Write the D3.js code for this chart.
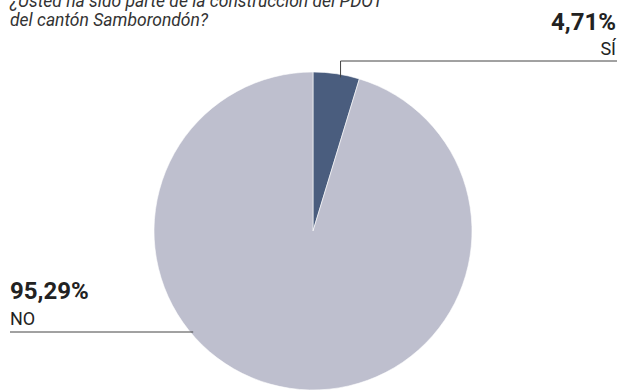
<!DOCTYPE html>
<html>
<head>
<meta charset="utf-8">
<script src="https://cdn.jsdelivr.net/npm/d3@7"></script>
<style>
  body { margin: 0; background: #fff; }
  text { font-family: Roboto, "DejaVu Sans", sans-serif; fill: #222; }
</style>
</head>
<body>
<div id="chart"></div>
<script>
// Data
const categories = ['SÍ', 'NO'];
const values = [4.71, 95.29];
const valueLabels = ['4,71%', '95,29%'];
const colors = ['#4a5d7e', '#bebfce'];
const titleLines = ['¿Usted ha sido parte de la construcción del PDOT', 'del cantón Samborondón?'];

const WIDTH = 617;
const HEIGHT = 390;
const CX = 313;
const CY = 231;
const RADIUS = 159;

const svg = d3.select('#chart')
    .append('svg')
    .attr('width', WIDTH)
    .attr('height', HEIGHT);

// Title (top line is clipped by the page edge, as in the original)
svg.append('text')
    .attr('x', 10)
    .attr('y', 7)
    .style('font-size', '17.5px')
    .style('font-style', 'italic')
    .style('fill', '#333')
    .selectAll('tspan')
    .data(titleLines)
    .join('tspan')
    .attr('x', 10)
    .attr('dy', (d, i) => i === 0 ? 0 : 19)
    .text(d => d);

// Pie
const pie = d3.pie().sort(null).value(d => d);
const arc = d3.arc().innerRadius(0).outerRadius(RADIUS);
const arcs = pie(values);

const g = svg.append('g').attr('transform', `translate(${CX},${CY})`);
g.selectAll('path')
    .data(arcs)
    .join('path')
    .attr('d', arc)
    .attr('fill', (d, i) => colors[i])
    .attr('stroke', '#fff')
    .attr('stroke-width', 0.6);

// Leader lines
const a0 = arcs[0].startAngle + 0.6 * (arcs[0].endAngle - arcs[0].startAngle);
const siX = CX + (RADIUS - 3) * Math.sin(a0);
const siY = CY - (RADIUS - 3) * Math.cos(a0);
svg.append('polyline')
    .attr('points', `${siX},${siY} ${siX},61 ${WIDTH},61`)
    .attr('fill', 'none')
    .attr('stroke', '#444')
    .attr('stroke-width', 1);

const noY = 332;
const noX = CX - Math.sqrt(RADIUS * RADIUS - (noY - CY) * (noY - CY));
svg.append('line')
    .attr('x1', 10)
    .attr('x2', noX + 3)
    .attr('y1', noY)
    .attr('y2', noY)
    .attr('stroke', '#444')
    .attr('stroke-width', 1);

// Labels
svg.append('text')
    .attr('x', 616)
    .attr('y', 30)
    .attr('text-anchor', 'end')
    .style('font-size', '24px')
    .style('font-weight', 'bold')
    .text(valueLabels[0]);
svg.append('text')
    .attr('x', 616)
    .attr('y', 55)
    .attr('text-anchor', 'end')
    .style('font-size', '18px')
    .text(categories[0]);

svg.append('text')
    .attr('x', 10)
    .attr('y', 299)
    .style('font-size', '24px')
    .style('font-weight', 'bold')
    .text(valueLabels[1]);
svg.append('text')
    .attr('x', 10)
    .attr('y', 325)
    .style('font-size', '18px')
    .text(categories[1]);
</script>
</body>
</html>
